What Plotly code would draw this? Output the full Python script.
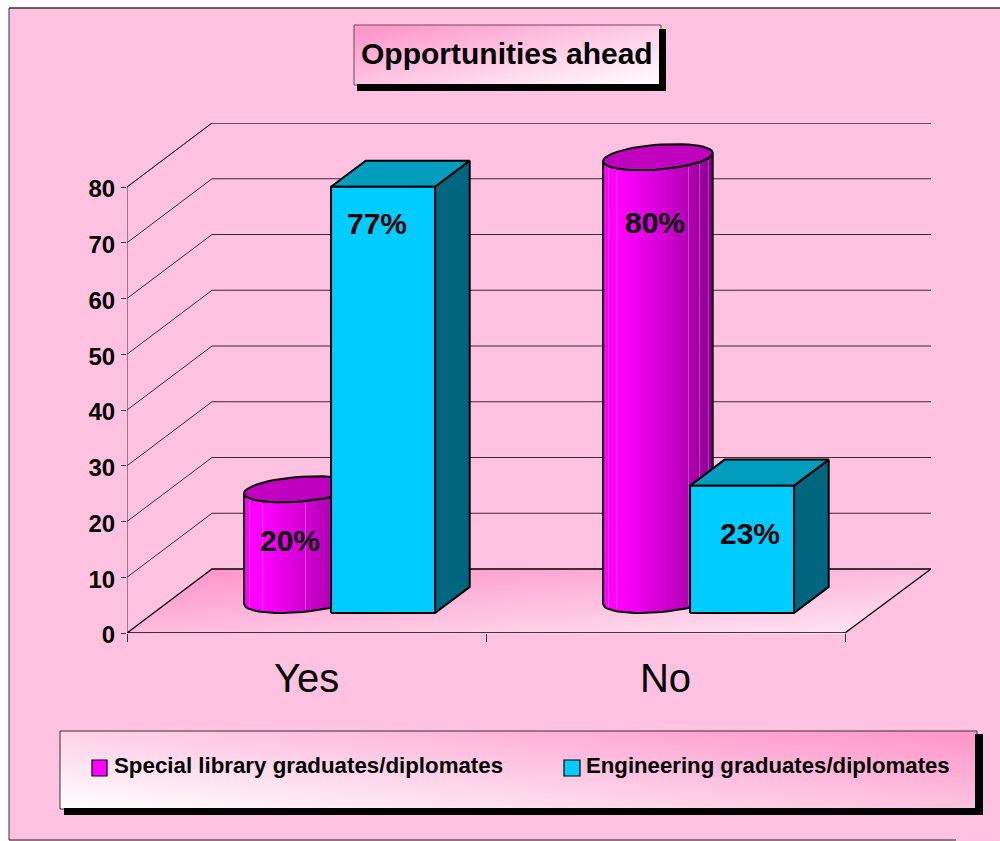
import base64
import struct
import zlib

import numpy as np
import plotly.graph_objects as go

# ---- chart data ----
categories = ["Yes", "No"]
series_names = ["Special library graduates/diplomates", "Engineering graduates/diplomates"]
library_values = [20, 80]
engineering_values = [77, 23]
value_ticks = [0, 10, 20, 30, 40, 50, 60, 70, 80]
chart_title = "Opportunities ahead"

# ---- page and plot geometry (pixels) ----
W, H = 1000, 841
PLOT_L, PLOT_R, PLOT_T, PLOT_B = 127, 931, 123, 633
PX_PER_CAT = 359.0
PX_PER_UNIT = 5.575
FONT = "Liberation Sans"

# ---- oblique projection: depth 0 is the front edge of the floor, 1 the back wall ----
DEPTH_X = 85 / PX_PER_CAT
DEPTH_Y = 64 / PX_PER_UNIT
BAR_D0, BAR_D1 = 0.3125, 0.72
BAR_SCALE = 0.993
BAR_WIDTH = 104 / PX_PER_CAT
BAR_LEFT = [-106 / PX_PER_CAT, -2 / PX_PER_CAT]
CYL_LEFT = -103.5 / PX_PER_CAT

X_MIN = -0.5
X_MAX = X_MIN + (PLOT_R - PLOT_L) / PX_PER_CAT
Y_MAX = (PLOT_B - PLOT_T) / PX_PER_UNIT


def project(x, value, depth):
    return x + depth * DEPTH_X, value + depth * DEPTH_Y


def solid(xy):
    """Project a bar's vertices (x, value, depth) onto the plot plane."""
    pts = [project(x, v * BAR_SCALE, d) for x, v, d in xy]
    return [p[0] for p in pts], [p[1] for p in pts]


def px(x):
    return x / W


def py(y):
    return 1 - y / H


def png_uri(rgba):
    """Encode an RGBA uint8 array as a PNG data URI."""
    h, w, _ = rgba.shape
    raw = b"".join(b"\x00" + rgba[r].tobytes() for r in range(h))

    def chunk(tag, data):
        body = tag + data
        return struct.pack(">I", len(data)) + body + struct.pack(">I", zlib.crc32(body))

    png = (
        b"\x89PNG\r\n\x1a\n"
        + chunk(b"IHDR", struct.pack(">IIBBBBB", w, h, 8, 6, 0, 0, 0))
        + chunk(b"IDAT", zlib.compress(raw, 9))
        + chunk(b"IEND", b"")
    )
    return "data:image/png;base64," + base64.b64encode(png).decode()


def gradient(w, h, t_func, strong, weak, mask=None):
    yy, xx = np.mgrid[0:h, 0:w]
    xn, yn = xx / max(w - 1, 1), yy / max(h - 1, 1)
    t = np.clip(t_func(xn, yn), 0, 1)[..., None]
    rgb = t * np.array(strong) + (1 - t) * np.array(weak)
    alpha = np.full((h, w, 1), 255.0)
    if mask is not None:
        alpha = mask(xx, yy)[..., None] * 255.0
    return np.concatenate([rgb, alpha], axis=2).astype(np.uint8)


def paper_image(rgba, x0, y0, x1, y1):
    return dict(
        source=png_uri(rgba), xref="paper", yref="paper", x=px(x0), y=py(y0),
        sizex=(x1 - x0) / W, sizey=(y1 - y0) / H, xanchor="left", yanchor="top",
        sizing="stretch", layer="below",
    )


PINK = (255, 153, 204)

# page: white margin, fine pink dither inside the frame
yy, xx = np.mgrid[0:H, 0:W]
page = np.zeros((H, W, 4), dtype=np.uint8)
page[..., 3] = 255
page[..., :3] = 255
dither = ((xx + yy) % 2)[..., None] * np.array([0, 5, 3])
inside = (xx >= 9) & (yy >= 8)
page[inside, :3] = (np.array([255, 191, 223]) + dither)[inside]

# floor parallelogram
floor_w, floor_h = 805, 65


def floor_mask(xx, yy):
    left = (floor_h - 1 - yy) * 85 / 64
    right = 718 + (floor_h - 1 - yy) * 86 / 64
    return ((xx >= left) & (xx <= right)).astype(float)


floor = gradient(floor_w, floor_h, lambda x, y: 0.55 * (1 - y) + 0.55 * (1 - x),
                 PINK, (255, 232, 244), floor_mask)

title_img = gradient(307, 59, lambda x, y: 0.5 * (1 - y) + 0.58 * (1 - x), PINK, (255, 255, 255))
legend_img = gradient(917, 78, lambda x, y: 0.45 * (1 - y) + 0.6 * x, PINK, (255, 255, 255))

images = [
    paper_image(page, 0, 0, W, H),
    paper_image(floor, PLOT_L, 569, PLOT_L + floor_w, 569 + floor_h),
    paper_image(title_img, 354, 25, 661, 84),
    paper_image(legend_img, 60, 731, 977, 809),
]


def rect(x0, y0, x1, y1, fill="rgba(0,0,0,0)", line=None, width=1):
    return dict(
        type="rect", xref="paper", yref="paper", x0=px(x0), x1=px(x1), y0=py(y0), y1=py(y1),
        fillcolor=fill, line=dict(color=line or "rgba(0,0,0,0)", width=width), layer="below",
    )


shapes = [
    # frame lines
    dict(type="line", xref="paper", yref="paper", x0=px(9), x1=px(9), y0=py(8), y1=py(840),
         line=dict(color="#333333", width=1), layer="below"),
    dict(type="line", xref="paper", yref="paper", x0=px(9), x1=1, y0=py(8), y1=py(8),
         line=dict(color="#333333", width=1.5), layer="below"),
    dict(type="line", xref="paper", yref="paper", x0=px(9), x1=px(956), y0=py(840), y1=py(840),
         line=dict(color="#222222", width=1), layer="below"),
    # title box with its drop shadow
    rect(354, 25, 661, 85, line="#6b4a60"),
    rect(357, 84, 666, 91, fill="#000000"),
    rect(659, 29, 666, 91, fill="#000000"),
    # legend box with its drop shadow
    rect(60, 731, 977, 809, line="#333333"),
    rect(64, 808, 983, 815, fill="#000000"),
    rect(975, 734, 983, 815, fill="#000000"),
    # legend swatches
    rect(92, 760, 107, 776, fill="#FF00FF", line="#000000", width=1.2),
    rect(564, 760, 580, 776, fill="#00CCFF", line="#000000", width=1.2),
]

fig = go.Figure()


def add_line(xs, ys, color, width):
    fig.add_trace(go.Scatter(x=xs, y=ys, mode="lines", line=dict(color=color, width=width),
                             hoverinfo="skip", showlegend=False, cliponaxis=False))


def add_face(xs, ys, fill=None, gradient_scale=None):
    kw = dict(fillcolor=fill) if fill else dict(
        fillgradient=dict(type="horizontal", colorscale=gradient_scale))
    fig.add_trace(go.Scatter(x=xs, y=ys, mode="lines", fill="toself",
                             line=dict(color="#000000", width=2),
                             hoverinfo="skip", showlegend=False, cliponaxis=False, **kw))


# gridlines run along the side wall and then across the back wall
for tick in value_ticks[1:] + [Y_MAX - DEPTH_Y]:
    bx, by = project(X_MIN, tick, 1)
    add_line([X_MIN, bx, X_MAX], [tick, by, by], "#3a2a34", 1)

# value axis line and floor outline
add_line([X_MIN, X_MIN], [0, value_ticks[-1]], "#333333", 1)
bx, by = project(X_MIN, 0, 1)
front_right = X_MIN + 2.0
add_line([X_MIN, bx, X_MAX, front_right, X_MIN], [0, by, by, 0, 0], "#000000", 1.3)

CYL_SCALE = [[0, "#FF00FF"], [0.15, "#FF00FF"], [0.55, "#D400D4"], [0.85, "#A800A8"], [1, "#880090"]]
FACET_FRACS = {0: [0.05, 0.17, 0.56], 1: [0.05, 0.125, 0.78, 0.88, 0.96]}


def add_cylinder(center, left, value, cat_index):
    a = BAR_WIDTH / 2
    cx = center + left + a
    dm, db = (BAR_D0 + BAR_D1) / 2, (BAR_D1 - BAR_D0) / 2
    tmax = np.arctan2(db * DEPTH_X, a)
    front = np.linspace(tmax, tmax - np.pi, 26)[::-1]  # left end to right end along the front

    def ring(v, angles):
        return solid([(cx + a * np.cos(t), v, dm + db * np.sin(t)) for t in angles])

    bot_x, bot_y = ring(0, front[::-1])
    top_x, top_y = ring(value, front)
    add_face(list(bot_x) + list(top_x) + [bot_x[0]], list(bot_y) + list(top_y) + [bot_y[0]],
             gradient_scale=CYL_SCALE)

    # faceted shading along the wall of the cylinder
    x_lo, x_hi = min(bot_x), max(bot_x)
    for frac in FACET_FRACS[cat_index]:
        fx = x_lo + frac * (x_hi - x_lo)
        low = float(np.interp(fx, sorted(top_x), [v for _, v in sorted(zip(top_x, top_y))]))
        high = float(np.interp(fx, sorted(bot_x), [v for _, v in sorted(zip(bot_x, bot_y))]))
        add_line([fx, fx], [high + 0.4, low - 0.4], "rgba(255,255,255,0.28)", 1)

    cap = np.linspace(0, 2 * np.pi, 49)
    cap_x, cap_y = ring(value, cap)
    add_face(cap_x, cap_y, fill="#BF00BF")


def add_box(center, left, value):
    x0, x1 = center + left, center + left + BAR_WIDTH
    side = solid([(x1, 0, BAR_D0), (x1, 0, BAR_D1), (x1, value, BAR_D1), (x1, value, BAR_D0), (x1, 0, BAR_D0)])
    add_face(*side, fill="#006680")
    top = solid([(x0, value, BAR_D0), (x1, value, BAR_D0), (x1, value, BAR_D1), (x0, value, BAR_D1), (x0, value, BAR_D0)])
    add_face(*top, fill="#009DBF")
    front = solid([(x0, 0, BAR_D0), (x1, 0, BAR_D0), (x1, value, BAR_D0), (x0, value, BAR_D0), (x0, 0, BAR_D0)])
    add_face(*front, fill="#00CCFF")


for i in range(len(categories)):
    add_cylinder(i, CYL_LEFT, library_values[i], i)
    add_box(i, BAR_LEFT[1], engineering_values[i])

annotations = [
    dict(text=f"<b>{chart_title}</b>", xref="paper", yref="paper", x=px(507), y=py(53.5),
         xanchor="center", yanchor="middle", showarrow=False, borderpad=0,
         font=dict(family=FONT, size=30, color="#000000")),
    dict(text=f"<b>{series_names[0]}</b>", xref="paper", yref="paper", x=px(113), y=py(765.5),
         xanchor="left", yanchor="middle", showarrow=False, borderpad=0,
         font=dict(family=FONT, size=22.3, color="#000000")),
    dict(text=f"<b>{series_names[1]}</b>", xref="paper", yref="paper", x=px(585), y=py(765.5),
         xanchor="left", yanchor="middle", showarrow=False, borderpad=0,
         font=dict(family=FONT, size=22.2, color="#000000")),
]

# value labels sit on each bar's front face, nudged by hand clear of its edges
LABEL_NUDGE = {(0, 0): (8, -38), (0, 1): (-6.5, -37), (1, 0): (14, -52), (1, 1): (8, -48)}
for i in range(len(categories)):
    for s, values in enumerate([library_values, engineering_values]):
        left = CYL_LEFT if s == 0 else BAR_LEFT[1]
        x, y = project(i + left + BAR_WIDTH / 2, values[i] * BAR_SCALE, BAR_D0)
        nx, ny = LABEL_NUDGE[(i, s)]
        annotations.append(dict(
            text=f"<b>{values[i]}%</b>", x=x, y=y, xref="x", yref="y", xshift=nx, yshift=ny,
            xanchor="center", yanchor="middle", showarrow=False, borderpad=0,
            font=dict(family=FONT, size=30, color="#000000"),
        ))

fig.update_layout(
    width=W, height=H, autosize=False,
    margin=dict(l=0, r=0, t=0, b=0, autoexpand=False),
    paper_bgcolor="#FFFFFF", plot_bgcolor="rgba(0,0,0,0)",
    showlegend=False,
    images=images, shapes=shapes, annotations=annotations,
    xaxis=dict(
        domain=[PLOT_L / W, PLOT_R / W], range=[X_MIN, X_MAX], automargin=False,
        tickmode="array", tickvals=list(range(len(categories))), ticktext=categories,
        ticks="", showgrid=False, zeroline=False, showline=False, ticklabelstandoff=18,
        tickfont=dict(family=FONT, size=40, color="#000000"),
        minor=dict(tickmode="array", tickvals=[-0.5, 0.5, 1.5], ticks="outside",
                   ticklen=8, tickcolor="#333333", tickwidth=1, showgrid=False),
    ),
    yaxis=dict(
        domain=[1 - PLOT_B / H, 1 - PLOT_T / H], range=[0, Y_MAX], automargin=False,
        tickmode="array", tickvals=value_ticks, ticks="outside", ticklen=5,
        tickcolor="#333333", tickwidth=1, showgrid=False, zeroline=False, showline=False,
        ticklabelstandoff=1, ticklabelshift=2,
        tickfont=dict(family=FONT, size=24, color="#000000", weight="bold"),
    ),
)

fig.write_html("out.html", config=dict(displayModeBar=False))
